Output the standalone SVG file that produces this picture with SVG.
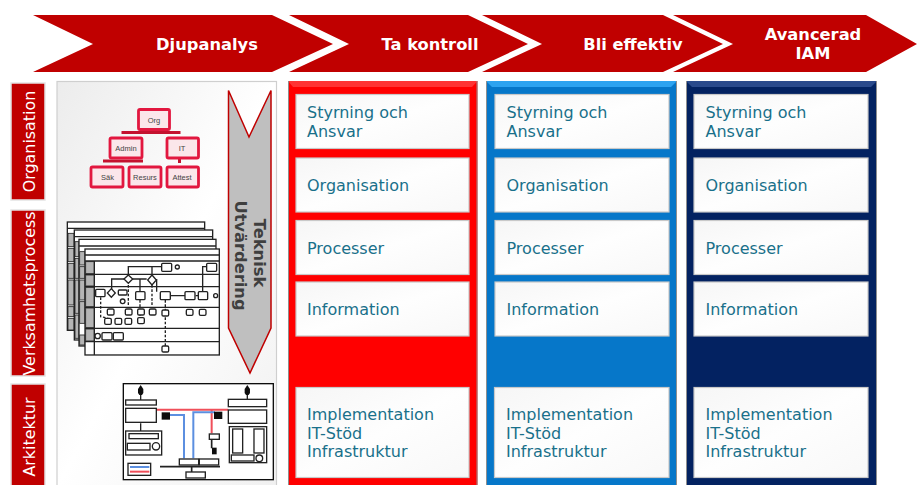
<svg xmlns="http://www.w3.org/2000/svg" width="917" height="485" viewBox="0 0 917 485">
<defs>
<linearGradient id="box" x1="0" y1="0" x2="1" y2="1"><stop offset="0" stop-color="#f6f6f6"/><stop offset=".5" stop-color="#fefefe"/><stop offset="1" stop-color="#f8f8f8"/></linearGradient>
<linearGradient id="panel" x1="0" y1="0" x2="1" y2="1"><stop offset="0" stop-color="#ececec"/><stop offset=".5" stop-color="#fff"/><stop offset="1" stop-color="#f0f0f0"/></linearGradient>
<filter id="soft" x="-5%" y="-5%" width="110%" height="110%"><feGaussianBlur stdDeviation="1.300"/></filter>
</defs>
<style>
text{font-family:"DejaVu Sans",Verdana,sans-serif}
.chev{fill:#c00000}
.head{fill:#fff;font-weight:bold;font-size:16.300px;text-anchor:middle}
.side{fill:#c00000;stroke:#e4e4e4;stroke-width:1.500}
.sidet{fill:#fff;font-size:15.900px;text-anchor:middle}
.box{fill:url(#box);stroke:#c9c9c9;stroke-width:1.200}
.lab{fill:#19708a;font-size:16px}
.edge{stroke:#8f8f8f;stroke-width:1;fill:none}
.org{fill:#fbe6ea;stroke:#e2173f;stroke-width:2.800}
.orgt{font-family:"Liberation Sans",Arial,sans-serif;font-size:7.500px;fill:#444;text-anchor:middle}
.sheet{fill:#fff;stroke:#222;stroke-width:4}
.ln{stroke:#222;stroke-width:4;fill:none}
.gr{fill:#b5b5b5;stroke:#222;stroke-width:2.500}
.da{stroke:#222;stroke-width:4;stroke-dasharray:8 5;fill:none}
.thin{stroke:#222;stroke-width:4;fill:#fff}
.tt{font-size:16.300px;font-weight:bold;fill:#3f3f3f;text-anchor:middle}
</style>

<g id="step-djupanalys"><polygon class="chev" points="33,15 272,15 333,44 272,72 33,72 93,44"/><text class="head" x="207" y="50">Djupanalys</text></g>
<g id="step-ta-kontroll"><polygon class="chev" points="289,15 468,15 528,44 468,72 289,72 349,44"/><text class="head" x="430" y="50">Ta kontroll</text></g>
<g id="step-bli-effektiv"><polygon class="chev" points="482,15 663,15 723,44 663,72 482,72 542,44"/><text class="head" x="633" y="50">Bli effektiv</text></g>
<g id="step-avancerad"><polygon class="chev" points="673,15 866,15 917,44 866,72 673,72 733,44"/><text class="head" x="813" y="40">Avancerad</text><text class="head" x="813" y="59">IAM</text></g>

<g id="side-organisation"><rect class="side" x="11" y="83" width="34" height="117"/><text class="sidet" transform="translate(34.500,141.500) rotate(-90)">Organisation</text></g>
<g id="side-verksamhetsprocess"><rect class="side" x="11" y="210" width="34" height="166"/><text class="sidet" transform="translate(34.500,293.500) rotate(-90)">Verksamhetsprocess</text></g>
<g id="side-arkitektur"><rect class="side" x="11" y="384" width="34" height="103"/><text class="sidet" transform="translate(34.500,437) rotate(-90)">Arkitektur</text></g>

<rect id="panel-djupanalys" x="57" y="81.500" width="219.500" height="406" fill="url(#panel)" stroke="#cfcfcf" stroke-width="1.200"/>

<g id="org-chart">
<g fill="#c4122f"><rect x="121.500" y="131" width="59" height="3"/><rect x="103" y="159.500" width="40" height="3"/><rect x="178" y="159" width="3" height="4"/></g>
<g><rect class="org" x="138.500" y="109.500" width="31" height="20" rx="1.500"/><text class="orgt" x="154" y="122.500">Org</text></g>
<g><rect class="org" x="110" y="138" width="32" height="20" rx="1.500"/><text class="orgt" x="126" y="151">Admin</text></g>
<g><rect class="org" x="167" y="138" width="31.500" height="20" rx="1.500"/><text class="orgt" x="182" y="151">IT</text></g>
<g><rect class="org" x="91" y="167" width="32" height="20" rx="1.500"/><text class="orgt" x="107.500" y="180">Säk</text></g>
<g><rect class="org" x="129" y="167" width="32" height="20" rx="1.500"/><text class="orgt" x="145" y="180">Resurs</text></g>
<g><rect class="org" x="167" y="167" width="31.500" height="20" rx="1.500"/><text class="orgt" x="182" y="180">Attest</text></g>
</g>

<g id="process-sheets" transform="translate(50,210) scale(.3333)" filter="url(#soft)">
<rect class="sheet" x="52" y="36" width="412" height="325"/><path class="ln" d="M52 55H464"/>
<g class="gr"><rect x="54" y="70" width="18" height="40"/><rect x="54" y="115" width="18" height="40"/><rect x="54" y="160" width="18" height="45"/><rect x="54" y="210" width="18" height="75"/><rect x="54" y="290" width="18" height="30"/><rect x="54" y="325" width="18" height="35"/></g>
<rect class="sheet" x="73" y="60" width="415" height="330"/><path class="ln" d="M73 80H488"/>
<g class="gr"><rect x="75" y="95" width="12" height="45"/><rect x="75" y="145" width="12" height="60"/><rect x="75" y="210" width="12" height="100"/><rect x="75" y="315" width="12" height="70"/></g>
<rect class="sheet" x="87" y="88" width="411" height="320"/><path class="ln" d="M87 108H498"/>
<g class="gr"><rect x="89" y="125" width="16" height="40"/><rect x="89" y="170" width="16" height="35"/><rect x="89" y="210" width="16" height="60"/><rect x="89" y="275" width="16" height="65"/><rect x="89" y="375" width="16" height="30"/></g>
<rect class="sheet" x="105" y="117" width="403" height="318"/>
<g class="gr"><rect x="107" y="155" width="26" height="36"/><rect x="107" y="195" width="26" height="33"/><rect x="107" y="232" width="26" height="58"/><rect x="107" y="294" width="26" height="59"/><rect x="107" y="357" width="26" height="36"/></g>
<path class="ln" d="M105 135H508M105 153H508M105 193H508M105 230H508M105 292H508M105 355H508M105 395H508M133 153V435"/>
<path class="ln" d="M235 195V170H335M185 250V207H225M247 207H290M306 195V170H335M270 245V207M320 207V245M360 257H405M437 257H445M458 245V170H470"/>
<path class="da" d="M152 262V320L175 325M235 225V290M306 225V290M346 270V410M270 270V340"/>
<g class="thin">
<rect x="335" y="160" width="30" height="24" rx="3"/><rect x="470" y="160" width="30" height="24" rx="3"/>
<polygon points="235,195 248,207 235,220 222,207"/><polygon points="306,195 319,210 306,225 293,210"/><polygon points="184,236 196,249 184,262 172,249"/>
<rect x="137" y="238" width="28" height="22" rx="3"/><rect x="205" y="240" width="26" height="15" rx="3"/>
<rect x="257" y="245" width="28" height="24" rx="3"/><rect x="331" y="245" width="30" height="24" rx="3"/><rect x="405" y="245" width="30" height="24" rx="3"/><rect x="445" y="245" width="28" height="24" rx="3"/>
<circle cx="382" cy="171" r="6"/><circle cx="218" cy="274" r="7"/><circle cx="497" cy="257" r="6"/><circle cx="143" cy="378" r="8"/>
<rect x="172" y="297" width="20" height="18" rx="4"/><rect x="226" y="297" width="20" height="18" rx="4"/><rect x="263" y="297" width="20" height="18" rx="4"/><rect x="298" y="297" width="20" height="18" rx="4"/><rect x="336" y="300" width="20" height="18" rx="4"/><rect x="409" y="298" width="20" height="18" rx="4"/><rect x="448" y="298" width="20" height="18" rx="4"/>
<rect x="164" y="325" width="20" height="18" rx="4"/><rect x="195" y="325" width="20" height="18" rx="4"/><rect x="225" y="325" width="20" height="18" rx="4"/><rect x="263" y="323" width="20" height="18" rx="4"/>
<rect x="156" y="368" width="30" height="22" rx="3"/><rect x="190" y="368" width="30" height="22" rx="3"/><rect x="336" y="408" width="20" height="18" rx="4"/>
</g>
</g>

<g id="architecture" transform="translate(110,375) scale(.3333)" filter="url(#soft)">
<rect x="40" y="26" width="450" height="288" fill="#fff" stroke="#111" stroke-width="4"/>
<path d="M140 104H355M305 104V175" stroke="#f0505a" stroke-width="6" fill="none"/>
<path d="M160 120H222V250M250 250V112H315" stroke="#5b8fe0" stroke-width="6" fill="none"/>
<path d="M92 145V170M412 60V75M92 60V75" stroke="#222" stroke-width="4"/><path d="M305 195V220M150 275H330M245 275V292" stroke="#222" stroke-width="5" fill="none"/>
<g fill="#111"><path d="M92 30l8 12v12l-4 6h-8l-4-6V42z"/><path d="M412 30l8 12v12l-4 6h-8l-4-6V42z"/><rect x="155" y="112" width="25" height="22"/><rect x="312" y="110" width="25" height="22"/><rect x="306" y="218" width="14" height="20"/></g>
<g fill="#fff" stroke="#222" stroke-width="4">
<rect x="47" y="75" width="92" height="15"/><rect x="47" y="100" width="92" height="42"/><rect x="355" y="73" width="115" height="22"/><rect x="355" y="105" width="115" height="40"/>
<rect x="47" y="168" width="108" height="72"/><rect x="57" y="176" width="88" height="15"/><rect x="52" y="205" width="68" height="20"/><circle cx="138" cy="214" r="11"/>
<rect x="358" y="155" width="112" height="108"/><rect x="368" y="162" width="30" height="72"/><rect x="432" y="162" width="30" height="72"/><rect x="364" y="240" width="68" height="18"/><circle cx="448" cy="250" r="10"/>
<rect x="298" y="177" width="30" height="16"/><rect x="208" y="252" width="58" height="18"/><rect x="268" y="252" width="58" height="18"/><rect x="228" y="291" width="58" height="18"/><rect x="54" y="265" width="68" height="36"/>
</g>
<path d="M60 276H118" stroke="#5b8fe0" stroke-width="6"/><path d="M60 290H118" stroke="#f0505a" stroke-width="6"/>
</g>

<g id="teknisk-utvardering"><polygon points="228.500,90.500 249,137 271,90.500 271,328 250,373 228.500,328" fill="#bfbfbf" stroke="#c00000" stroke-width="1.500"/><text class="tt" transform="translate(253.500,253) rotate(90)">Teknisk</text><text class="tt" transform="translate(234.500,255.500) rotate(90)">Utvärdering</text></g>

<g id="col-red">
<rect x="288" y="81" width="189.500" height="406" fill="#ff0000"/><path d="M288 81H477.500L472 87H293Z" fill="#f33"/><path d="M288.500 81V487M477 81V487" class="edge"/>
<g><rect class="box" x="296" y="94.500" width="173" height="54"/><text class="lab" x="307" y="118">Styrning och</text><text class="lab" x="307" y="137">Ansvar</text></g>
<g><rect class="box" x="296" y="158" width="173" height="54"/><text class="lab" x="307" y="191">Organisation</text></g>
<g><rect class="box" x="296" y="220.500" width="173" height="54"/><text class="lab" x="307" y="254">Processer</text></g>
<g><rect class="box" x="296" y="282" width="173" height="54"/><text class="lab" x="307" y="315">Information</text></g>
<g><rect class="box" x="296" y="387.500" width="173" height="90"/><text class="lab" x="307" y="420">Implementation</text><text class="lab" x="307" y="439">IT-Stöd</text><text class="lab" x="307" y="457">Infrastruktur</text></g>
</g>

<g id="col-blue">
<rect x="486" y="81" width="191" height="406" fill="#0677c9"/><path d="M486 81H677L671 87H492Z" fill="#2da3f0"/><path d="M486.500 81V487M676.500 81V487" class="edge"/>
<g><rect class="box" x="495" y="94.500" width="174" height="54"/><text class="lab" x="506.500" y="118">Styrning och</text><text class="lab" x="506.500" y="137">Ansvar</text></g>
<g><rect class="box" x="495" y="158" width="174" height="54"/><text class="lab" x="506.500" y="191">Organisation</text></g>
<g><rect class="box" x="495" y="220.500" width="174" height="54"/><text class="lab" x="506.500" y="254">Processer</text></g>
<g><rect class="box" x="495" y="282" width="174" height="54"/><text class="lab" x="506.500" y="315">Information</text></g>
<g><rect class="box" x="494.500" y="387.500" width="174.500" height="90"/><text class="lab" x="506" y="420">Implementation</text><text class="lab" x="506" y="439">IT-Stöd</text><text class="lab" x="506" y="457">Infrastruktur</text></g>
</g>

<g id="col-navy">
<rect x="686" y="81" width="191" height="406" fill="#032261"/><path d="M686 81H877L871 87H692Z" fill="#2a4a8c"/><path d="M686.500 81V487M876.500 81V487" class="edge"/>
<g><rect class="box" x="694" y="94.500" width="174" height="54"/><text class="lab" x="705.500" y="118">Styrning och</text><text class="lab" x="705.500" y="137">Ansvar</text></g>
<g><rect class="box" x="694" y="158" width="174" height="54"/><text class="lab" x="705.500" y="191">Organisation</text></g>
<g><rect class="box" x="694" y="220.500" width="174" height="54"/><text class="lab" x="705.500" y="254">Processer</text></g>
<g><rect class="box" x="694" y="282" width="174" height="54"/><text class="lab" x="705.500" y="315">Information</text></g>
<g><rect class="box" x="694" y="387.500" width="174" height="90"/><text class="lab" x="705.500" y="420">Implementation</text><text class="lab" x="705.500" y="439">IT-Stöd</text><text class="lab" x="705.500" y="457">Infrastruktur</text></g>
</g>
</svg>
